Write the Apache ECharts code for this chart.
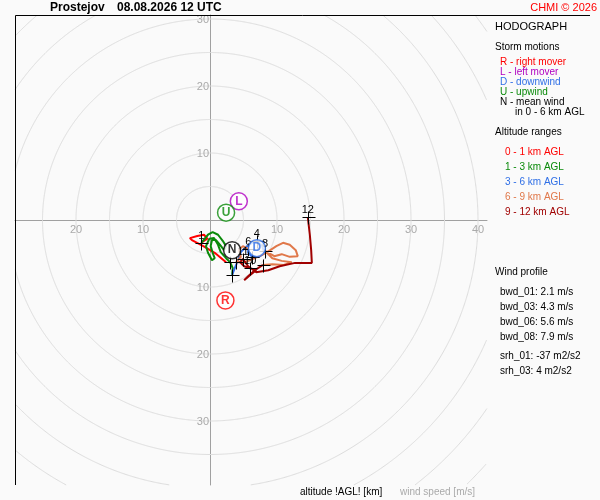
<!DOCTYPE html>
<html><head><meta charset="utf-8">
<script src="https://cdn.jsdelivr.net/npm/echarts@6/dist/echarts.min.js"></script>
<style>html,body{margin:0;padding:0;background:#fafafa}#c{width:600px;height:500px}</style>
</head><body><div id="c"></div>
<script>
// ---- data (m/s, u = east component, v = north component) ----
const ringRadii = [5,10,15,20,25,30,35,40,45,50,55,60];
const xTickValues = [-20,-10,10,20,30,40];
const yTickValues = [-30,-20,-10,10,20,30];

const layer0to1 = [[2.4,-6.3],[0.7,-4.9],[-1.0,-3.9],[-2.7,-3.0],[-3.0,-2.7],[-1.9,-2.4],[-0.9,-2.2],[-0.4,-2.8],[-1.3,-3.4]];
const layer1to3 = [[-1.3,-3.4],[-0.3,-2.2],[0.4,-1.8],[1.2,-2.2],[1.9,-3.1],[2.4,-3.9],[2.1,-4.5],[1.5,-3.7],[0.9,-3.0],[0.3,-3.0],[0.1,-3.9],[0.4,-4.9],[0.7,-5.7],[0.3,-6.0],[-0.3,-4.9],[-0.6,-3.9],[-0.1,-2.8],[0.6,-2.7],[1.2,-3.7],[1.6,-4.8],[2.4,-5.7],[3.0,-6.3],[3.4,-7.2],[3.3,-8.2]];
const layer3to6 = [[3.3,-8.2],[3.7,-7.2],[4.2,-6.0],[4.6,-4.8],[5.4,-4.0],[6.3,-3.4],[7.0,-3.1],[7.8,-3.9],[8.1,-4.9],[7.3,-5.5],[6.3,-5.5],[5.7,-4.9],[5.7,-4.3]];
const layer6to9 = [[5.7,-4.3],[4.9,-3.9],[4.3,-4.5],[4.6,-5.5],[3.9,-6.3],[5.2,-6.3],[6.7,-5.7],[7.8,-5.2],[9.0,-4.5],[9.9,-3.9],[10.9,-3.4],[11.9,-3.7],[12.8,-4.5],[13.1,-5.4],[11.9,-5.5],[10.7,-5.1],[9.6,-5.4],[8.2,-4.6],[9.3,-5.7],[10.7,-6.1],[12.2,-6.3],[11.0,-6.7],[9.3,-6.6],[7.9,-6.7]];
const layer9to12 = [[7.9,-6.7],[6.7,-7.5],[5.7,-8.4],[5.1,-9.0],[6.0,-8.2],[6.9,-7.5],[6.0,-7.2],[5.1,-6.9],[4.5,-6.3],[4.9,-5.8],[5.7,-6.9],[6.9,-7.8],[8.7,-7.5],[10.4,-6.9],[12.7,-6.4],[15.2,-6.4],[15.1,-4.5],[14.9,-2.2],[14.6,0.4]];

const kmHeights = [1,2,3,4,5,6,7,8,9,10,11,12];
const kmPoints = [[-1.3,-3.4],[3.0,-6.3],[3.3,-8.2],[7.0,-3.1],[6.3,-5.5],[5.7,-4.3],[3.9,-6.3],[8.2,-4.6],[7.9,-6.7],[6.0,-7.2],[4.9,-5.8],[14.6,0.4]];
const kmLabelsShown = [1,4,6,8,10,11,12];

const stormLetters = ['R','L','D','U','N'];
const stormU = [2.3, 4.3, 7.0, 2.4, 3.3];
const stormV = [-12.0, 2.8, -4.2, 1.1, -4.5];

const windProfile = ['bwd_01: 2.1 m/s','bwd_03: 4.3 m/s','bwd_06: 5.6 m/s','bwd_08: 7.9 m/s'];
const helicity = ['srh_01: -37 m2/s2','srh_03: 4 m2/s2'];

// ---- styles ----
const FONT = '"Liberation Sans", Arial, sans-serif';
const layerColors = ['#ff0000','#0a8a0a','#2f6fe6','#e0784a','#a00000'];
const stormColors = {R:'#ff0000', L:'#b000c0', D:'#2f6fe6', U:'#0a8a0a', N:'#000000'};
const PX = 6.7, CX = 210, CY = 220, GL = 15, GT = 15, GW = 472, GH = 470;
const xMin = -(CX - GL) / PX, xMax = xMin + GW / PX;
const yMax = (CY - GT) / PX, yMin = yMax - GH / PX;

const chart = echarts.init(document.getElementById('c'), null, {renderer:'canvas'});

function lineSeries(data, color){
  return {type:'line', data, showSymbol:false, symbol:'none', z:4, clip:true, silent:true,
    lineStyle:{color, width:2}, animation:false};
}

const graphics = [];
function txt(x, y, text, fill, size, weight, align){
  graphics.push({type:'text', x, y, silent:true, z:10,
    style:{text, fill, font:(weight||'normal')+' '+size+'px '+FONT, align:align||'left', verticalAlign:'middle'}});
}
graphics.push({type:'line', silent:true, z:10, shape:{x1:15.5,y1:15.5,x2:590,y2:15.5}, style:{stroke:'#000', lineWidth:1}});
graphics.push({type:'line', silent:true, z:10, shape:{x1:15.5,y1:15.5,x2:15.5,y2:485}, style:{stroke:'#000', lineWidth:1}});
txt(50, 7.5, 'Prostejov', '#000', 12, 'bold');
txt(117, 7.5, '08.08.2026 12 UTC', '#000', 12, 'bold');
txt(597, 7.5, 'CHMI \u00a9 2026', '#ff0000', 11, 'normal', 'right');
txt(495, 26.5, 'HODOGRAPH', '#000', 11);
txt(495, 47, 'Storm motions', '#000', 10);
const stormLegend = [['R - right mover','R'],['L - left mover','L'],['D - downwind','D'],['U - upwind','U'],['N - mean wind','N']];
stormLegend.forEach((s,i)=>txt(500, 62 + i*10, s[0], stormColors[s[1]], 10));
txt(515, 112, 'in 0 - 6 km AGL', '#000', 10);
txt(495, 132, 'Altitude ranges', '#000', 10);
['0 - 1 km AGL','1 - 3 km AGL','3 - 6 km AGL','6 - 9 km AGL','9 - 12 km AGL'].forEach((t,i)=>txt(505, 152 + i*15, t, layerColors[i], 10));
txt(495, 272, 'Wind profile', '#000', 10);
windProfile.forEach((t,i)=>txt(500, 292 + i*15, t, '#000', 10));
helicity.forEach((t,i)=>txt(500, 356.5 + i*15, t, '#000', 10));
txt(300, 492, 'altitude !AGL! [km]', '#000', 10);
txt(400, 492, 'wind speed [m/s]', '#aaaaaa', 10);

const option = {
  backgroundColor:'#fafafa',
  animation:false,
  grid:{left:GL, top:GT, width:GW, height:GH, containLabel:false, outerBoundsMode:'none'},
  xAxis:{type:'value', min:xMin, max:xMax, axisLine:{show:true, onZero:true, lineStyle:{color:'#a0a0a0', width:1}},
    axisTick:{show:false}, axisLabel:{show:false}, splitLine:{show:false}},
  yAxis:{type:'value', min:yMin, max:yMax, axisLine:{show:true, onZero:true, lineStyle:{color:'#a0a0a0', width:1}},
    axisTick:{show:false}, axisLabel:{show:false}, splitLine:{show:false}},
  graphic: graphics,
  series:[
    {type:'custom', z:1, silent:true, data: ringRadii.map(r=>[r]),
      renderItem:(params, api)=>{
        const c = api.coord([0,0]);
        const r = api.size([api.value(0), 0])[0];
        const cs = params.coordSys;
        const x0 = cs.x, y0 = cs.y, x1 = cs.x + cs.width, y1 = cs.y + cs.height;
        const segs = []; let cur = null;
        for (let k = 0; k <= 1440; k++) {
          const a = k / 1440 * Math.PI * 2;
          const px = c[0] + r * Math.cos(a), py = c[1] - r * Math.sin(a);
          if (px >= x0 && px <= x1 && py >= y0 && py <= y1) {
            if (!cur) { cur = []; segs.push(cur); }
            cur.push([px, py]);
          } else cur = null;
        }
        return {type:'group', children: segs.filter(s=>s.length>1).map(s=>({type:'polyline', shape:{points:s},
          style:{fill:null, stroke:'#dddddd', lineWidth:1}}))};
      }},
    {type:'custom', z:2, silent:true, data: xTickValues.map(v=>[v,0]),
      renderItem:(params, api)=>{
        const p = api.coord([api.value(0), api.value(1)]);
        return {type:'text', x:p[0], y:p[1]+9.5, style:{text:String(Math.abs(api.value(0))), fill:'#aaaaaa',
          font:'11px '+FONT, align:'center', verticalAlign:'middle'}};
      }},
    {type:'custom', z:2, silent:true, data: yTickValues.map(v=>[0,v]),
      renderItem:(params, api)=>{
        const p = api.coord([api.value(0), api.value(1)]);
        return {type:'text', x:p[0]-1, y:p[1]+1, style:{text:String(Math.abs(api.value(1))), fill:'#aaaaaa',
          font:'11px '+FONT, align:'right', verticalAlign:'middle'}};
      }},
    lineSeries(layer0to1, layerColors[0]),
    lineSeries(layer1to3, layerColors[1]),
    lineSeries(layer3to6, layerColors[2]),
    lineSeries(layer6to9, layerColors[3]),
    lineSeries(layer9to12, layerColors[4]),
    {type:'custom', z:6, silent:true, data: kmPoints.map((p,i)=>[p[0], p[1], kmHeights[i]]),
      renderItem:(params, api)=>{
        const p = api.coord([api.value(0), api.value(1)]);
        const km = api.value(2);
        const x = Math.round(p[0]) + 0.5, y = Math.round(p[1]) + 0.5;
        const children = [
          {type:'line', shape:{x1:x-6, y1:y, x2:x+7, y2:y}, style:{stroke:'#000', lineWidth:1}},
          {type:'line', shape:{x1:x, y1:y-6, x2:x, y2:y+7}, style:{stroke:'#000', lineWidth:1}}
        ];
        if (kmLabelsShown.indexOf(km) >= 0) {
          children.push({type:'text', x:p[0], y:p[1]-7, style:{text:String(km), fill:'#000',
            font:'11px '+FONT, align:'center', verticalAlign:'middle'}});
        }
        return {type:'group', children};
      }},
    {type:'scatter', z:8, silent:true, symbol:'circle', symbolSize:17,
      data: stormLetters.map((l,i)=>({value:[stormU[i], stormV[i]], name:l,
        itemStyle:{color:'#ffffff', borderColor:stormColors[l], borderWidth:1.5},
        label:{color:stormColors[l]}})),
      label:{show:true, position:'inside', formatter:p=>p.name, fontWeight:'bold', fontSize:12, fontFamily:FONT}}
  ]
};
chart.setOption(option);
</script>
</body></html>
